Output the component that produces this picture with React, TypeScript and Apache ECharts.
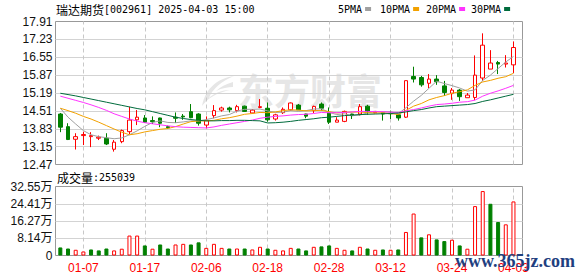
import React, { useEffect, useRef } from 'react';
import * as echarts from 'echarts';

// ---------- data ----------
const dates = [
  '01-02','01-03','01-06','01-07','01-08','01-09','01-10','01-13','01-14','01-15',
  '01-16','01-17','01-20','01-21','01-22','01-23','01-24','01-27','02-05','02-06',
  '02-07','02-10','02-11','02-12','02-13','02-14','02-17','02-18','02-19','02-20',
  '02-21','02-24','02-25','02-26','02-27','02-28','03-03','03-04','03-05','03-06',
  '03-07','03-10','03-11','03-12','03-13','03-14','03-17','03-18','03-19','03-20',
  '03-21','03-24','03-25','03-26','03-27','03-28','03-31','04-01','04-02','04-03',
];
const labelDates = ['01-07', '01-17', '02-06', '02-18', '02-28', '03-12', '03-24', '04-03'];

const opens = [
  14.39, 13.91, 13.43, 13.57, 13.53, 13.47, 13.47, 13.05, 13.34, 13.72,
  14.17, 14.24, 14.14, 14.24, 13.91, 14.27, 14.31, 14.48, 14.39, 13.97,
  14.33, 14.54, 14.62, 14.52, 14.69, 14.43, 14.64, 14.61, 14.20, 14.44,
  14.55, 14.73, 14.39, 14.52, 14.77, 14.45, 14.08, 14.11, 14.39, 14.39,
  14.69, 14.44, 14.44, 14.42, 14.36, 14.27, 15.82, 15.78, 15.56, 15.72,
  15.46, 15.18, 15.30, 15.01, 15.02, 15.76, 16.10, 16.35, 16.29, 16.26,
];
const closes = [
  13.89, 13.42, 13.53, 13.61, 13.57, 13.51, 13.25, 13.32, 13.76, 14.16,
  14.27, 14.08, 14.10, 14.04, 13.87, 14.23, 14.28, 14.25, 14.04, 14.14,
  14.52, 14.62, 14.55, 14.67, 14.49, 14.54, 14.67, 14.17, 14.36, 14.57,
  14.81, 14.55, 14.31, 14.68, 14.61, 14.08, 14.16, 14.49, 14.33, 14.67,
  14.48, 14.49, 14.39, 14.40, 14.24, 15.66, 15.72, 15.50, 15.72, 15.62,
  15.21, 15.30, 15.05, 15.11, 15.87, 17.01, 16.33, 16.29, 16.33, 16.92,
];
const lows = [
  13.70, 13.40, 13.04, 13.21, 13.13, 13.40, 13.21, 12.96, 13.28, 13.63,
  13.97, 14.05, 14.01, 13.89, 13.82, 14.05, 14.17, 14.23, 13.95, 13.85,
  14.23, 14.48, 14.45, 14.45, 14.47, 14.41, 14.61, 14.10, 14.14, 14.39,
  14.52, 14.54, 14.23, 14.43, 14.52, 14.01, 14.08, 14.08, 14.20, 14.33,
  14.36, 14.42, 14.14, 14.20, 14.14, 14.24, 15.59, 15.43, 15.38, 15.50,
  15.08, 14.93, 14.89, 15.01, 14.92, 15.65, 16.10, 15.91, 16.16, 15.95,
];
const highs = [
  14.43, 14.04, 13.66, 13.72, 13.70, 13.57, 13.66, 13.40, 13.80, 14.67,
  14.54, 14.35, 14.30, 14.25, 13.95, 14.45, 14.39, 14.77, 14.42, 14.30,
  14.73, 14.67, 14.67, 14.74, 14.71, 14.58, 14.96, 14.83, 14.40, 14.64,
  14.83, 14.77, 14.40, 14.71, 14.83, 14.64, 14.27, 14.52, 14.40, 14.77,
  14.74, 14.50, 14.46, 14.52, 14.39, 15.66, 16.19, 15.84, 15.91, 15.87,
  15.65, 15.38, 15.34, 15.19, 16.62, 17.46, 16.82, 16.41, 16.63, 17.15,
];
const volumes = [
  38000, 33000, 27000, 19000, 28500, 24000, 33000, 24000, 32000, 94000,
  94000, 47500, 32000, 52000, 33000, 52000, 55000, 52000, 62000, 36000,
  55000, 36000, 33000, 33000, 33000, 28500, 41000, 33000, 27000, 24000,
  36000, 33000, 24000, 41000, 43000, 47500, 36000, 27000, 24000, 41000,
  33000, 27000, 28500, 27000, 28500, 111000, 198000, 85500, 100000, 76000,
  68000, 74500, 47500, 32000, 233000, 304000, 244000, 158000, 147000, 255039,
];
const ma5 = [
  14.61, 14.27, 14.01, 13.76, 13.60, 13.53, 13.49, 13.45, 13.48, 13.60,
  13.75, 13.92, 14.07, 14.13, 14.07, 14.06, 14.09, 14.13, 14.13, 14.18,
  14.24, 14.32, 14.37, 14.50, 14.57, 14.57, 14.58, 14.51, 14.45, 14.46,
  14.52, 14.49, 14.52, 14.58, 14.59, 14.45, 14.37, 14.40, 14.33, 14.35,
  14.43, 14.49, 14.47, 14.48, 14.40, 14.63, 14.88, 15.10, 15.37, 15.64,
  15.55, 15.47, 15.38, 15.26, 15.31, 15.67, 15.87, 16.12, 16.37, 16.58,
];
const ma10 = [
  14.61, 14.52, 14.42, 14.30, 14.20, 14.08, 13.95, 13.82, 13.70, 13.60,
  13.64, 13.71, 13.76, 13.81, 13.84, 13.91, 14.01, 14.10, 14.13, 14.13,
  14.15, 14.21, 14.25, 14.31, 14.38, 14.41, 14.45, 14.44, 14.47, 14.52,
  14.55, 14.54, 14.51, 14.52, 14.53, 14.48, 14.43, 14.46, 14.46, 14.47,
  14.44, 14.43, 14.44, 14.41, 14.37, 14.53, 14.69, 14.79, 14.93, 15.02,
  15.09, 15.18, 15.24, 15.31, 15.48, 15.61, 15.67, 15.75, 15.81, 15.94,
];
const ma20 = [
  15.07, 14.99, 14.91, 14.83, 14.74, 14.64, 14.53, 14.40, 14.30, 14.20,
  14.12, 14.06, 14.02, 13.98, 13.94, 13.91, 13.89, 13.88, 13.87, 13.86,
  13.90, 13.96, 14.01, 14.06, 14.11, 14.16, 14.23, 14.27, 14.30, 14.32,
  14.35, 14.37, 14.38, 14.41, 14.45, 14.44, 14.44, 14.45, 14.47, 14.49,
  14.49, 14.48, 14.48, 14.46, 14.45, 14.51, 14.56, 14.62, 14.69, 14.75,
  14.77, 14.80, 14.84, 14.86, 14.92, 15.07, 15.18, 15.27, 15.37, 15.48,
];
const ma30 = [
  15.18, 15.13, 15.08, 15.02, 14.96, 14.90, 14.84, 14.78, 14.72, 14.66,
  14.60, 14.55, 14.48, 14.41, 14.34, 14.27, 14.22, 14.18, 14.15, 14.13,
  14.13, 14.14, 14.14, 14.15, 14.15, 14.14, 14.13, 14.05, 14.06, 14.08,
  14.11, 14.15, 14.18, 14.21, 14.25, 14.27, 14.30, 14.33, 14.35, 14.37,
  14.38, 14.39, 14.40, 14.41, 14.43, 14.47, 14.52, 14.56, 14.62, 14.67,
  14.69, 14.71, 14.73, 14.75, 14.79, 14.87, 14.93, 15.00, 15.07, 15.14,
];

const priceMin = 12.47;
const priceMax = 17.91;
const priceStep = 0.68;
const volMax = 325480;
const volStep = 81370;

const titleName = '瑞达期货';
const titleInfo = '[002961] 2025-04-03 15:00';
const volumeName = '成交量';
const volumeInfo = ':255039';
const legendNames = ['5PMA', '10PMA', '20PMA', '30PMA'];
const watermark = '东方财富';
const siteMark = 'www.365jz.com';

// ---------- styling ----------
const RED = '#ff0000';
const GREEN = '#008000';
const maColors = ['#a0a0a0', '#f2a100', '#ff33ff', '#006b3c'];
const legendX = [338, 380, 426, 471];
const MONO = '"DejaVu Sans Mono", monospace';
const CJK = '"Noto Sans CJK SC", sans-serif';
const SANS = '"Liberation Sans", "Noto Sans CJK SC", sans-serif';

const LOGO_D =
  'M34 0 C20 2 6 10 2 30 C8 22 16 17 30 14 C22 14 14 17 9 22 C12 13 22 5 34 0 Z M33 6 C26 8 20 11 16 15 C22 12 28 11 33 11 Z';

export default function App() {
  const ref = useRef<HTMLDivElement>(null);

  useEffect(() => {
    if (!ref.current) return;
    echarts.graphic.registerShape('emLogo', echarts.graphic.extendPath(LOGO_D, {}));
    const chart = echarts.init(ref.current, undefined, { renderer: 'svg' });

    const candleData = dates.map((_, i) => [opens[i], closes[i], lows[i], highs[i]]);
    const volData = volumes.map((v, i) => {
      const up = i === 0 ? closes[0] >= opens[0] : closes[i] >= closes[i - 1];
      return {
        value: v,
        itemStyle: up
          ? { color: '#ffffff', borderColor: RED, borderWidth: 1 }
          : { color: GREEN, borderColor: GREEN, borderWidth: 1 },
      };
    });
    const vLines = {
      silent: true,
      symbol: ['none', 'none'],
      label: { show: false },
      z: 1,
      lineStyle: { color: '#c8c8c8', type: [4, 3], width: 1 },
      emphasis: { disabled: true },
      data: labelDates.map((d) => ({ xAxis: d })),
    };
    const maSeries = [ma5, ma10, ma20, ma30].map((arr, k) => ({
      name: legendNames[k],
      type: 'line',
      xAxisIndex: 1,
      yAxisIndex: 1,
      data: arr,
      symbol: 'none',
      smooth: false,
      lineStyle: { color: maColors[k], width: 1 },
      z: 3,
    }));

    const legendGraphics: any[] = [];
    legendNames.forEach((n, k) => {
      const w = n.length * 6.02;
      legendGraphics.push({
        type: 'text',
        x: legendX[k],
        y: 9,
        style: { text: n, font: `10px ${MONO}`, fill: '#000', verticalAlign: 'middle' },
      });
      legendGraphics.push({
        type: 'rect',
        x: legendX[k] + w + 3,
        y: 7,
        shape: { x: 0, y: 0, width: 6, height: 4 },
        style: { fill: maColors[k] },
      });
    });

    const option: any = {
      animation: false,
      backgroundColor: '#ffffff',
      grid: [
        { left: 55.5, top: 21.5, width: 467, height: 143, show: true, borderColor: '#999', borderWidth: 1, backgroundColor: 'transparent' },
        { left: 56.5, top: 21.5, width: 460.8, height: 143 },
        { left: 55.5, top: 186.5, width: 467, height: 69, show: true, borderColor: '#999', borderWidth: 1, backgroundColor: 'transparent' },
        { left: 56.5, top: 186.5, width: 460.8, height: 69 },
      ],
      xAxis: [
        { type: 'value', gridIndex: 0, min: 0, max: 1, show: false },
        {
          type: 'category', gridIndex: 1, data: dates, boundaryGap: true,
          axisLine: { show: false }, axisTick: { show: false }, axisLabel: { show: false }, splitLine: { show: false },
        },
        { type: 'value', gridIndex: 2, min: 0, max: 1, show: false },
        {
          type: 'category', gridIndex: 3, data: dates, boundaryGap: true,
          axisLine: { show: false }, axisTick: { show: false }, splitLine: { show: false },
          axisLabel: {
            show: true,
            interval: (_: number, v: string) => labelDates.includes(v),
            color: RED, fontSize: 12, fontFamily: SANS, margin: 6,
          },
        },
      ],
      yAxis: [
        {
          type: 'value', gridIndex: 0, min: priceMin, max: priceMax, interval: priceStep,
          axisLine: { show: false }, axisTick: { show: false },
          axisLabel: { color: '#111', fontSize: 12, fontFamily: SANS, margin: 3, formatter: (v: number) => v.toFixed(2) },
          splitLine: { show: true, showMinLine: false, showMaxLine: false, lineStyle: { color: '#d3d3d3', width: 1 } },
        },
        { type: 'value', gridIndex: 1, min: priceMin, max: priceMax, show: false, splitLine: { show: false } },
        {
          type: 'value', gridIndex: 2, min: 0, max: volMax, interval: volStep,
          axisLine: { show: false }, axisTick: { show: false },
          axisLabel: {
            color: '#111', fontSize: 12, fontFamily: SANS, margin: 3,
            formatter: (v: number) => (v === 0 ? '0' : (v / 10000).toFixed(2) + '万'),
          },
          splitLine: { show: true, showMinLine: false, showMaxLine: false, lineStyle: { color: '#d3d3d3', width: 1 } },
        },
        { type: 'value', gridIndex: 3, min: 0, max: volMax, show: false, splitLine: { show: false } },
      ],
      series: [
        {
          type: 'candlestick',
          xAxisIndex: 1,
          yAxisIndex: 1,
          data: candleData,
          barWidth: 4,
          itemStyle: { color: '#ffffff', color0: GREEN, borderColor: RED, borderColor0: GREEN, borderWidth: 1 },
          markLine: vLines,
          z: 2,
        },
        ...maSeries,
        {
          type: 'bar',
          xAxisIndex: 3,
          yAxisIndex: 3,
          data: volData,
          barWidth: 4,
          markLine: vLines,
          z: 2,
        },
      ],
      graphic: [
        {
          type: 'text', x: 238, y: 89, z: -1,
          style: { text: watermark, font: `bold 36px ${CJK}`, fill: '#e6e6e6', verticalAlign: 'middle' },
        },
        { type: 'emLogo', x: 200, y: 76, scaleX: 1.0, scaleY: 1.0, z: -1, style: { fill: '#e6e6e6' } },
        {
          type: 'text', x: 56, y: 9,
          style: {
            text: `{a|${titleName}}{b|${titleInfo}}`,
            verticalAlign: 'middle',
            rich: {
              a: { font: `12px ${CJK}`, fill: '#000' },
              b: { font: `10px ${MONO}`, fill: '#000' },
            },
          },
        },
        ...legendGraphics,
        {
          type: 'text', x: 57, y: 177.5,
          style: {
            text: `{a|${volumeName}}{b|${volumeInfo}}`,
            verticalAlign: 'middle',
            rich: {
              a: { font: `12px ${CJK}`, fill: '#000' },
              b: { font: `10px ${MONO}`, fill: '#000' },
            },
          },
        },
        {
          type: 'text', x: 455, y: 261, z: 100,
          style: { text: siteMark, font: `bold 18px "Liberation Serif", serif`, fill: '#1f3f80', verticalAlign: 'middle' },
        },
      ],
    };

    chart.setOption(option);
    return () => chart.dispose();
  }, []);

  return (
    <div
      ref={ref}
      style={{ position: 'fixed', left: 0, top: 0, width: 578, height: 276, background: '#fff' }}
    />
  );
}
